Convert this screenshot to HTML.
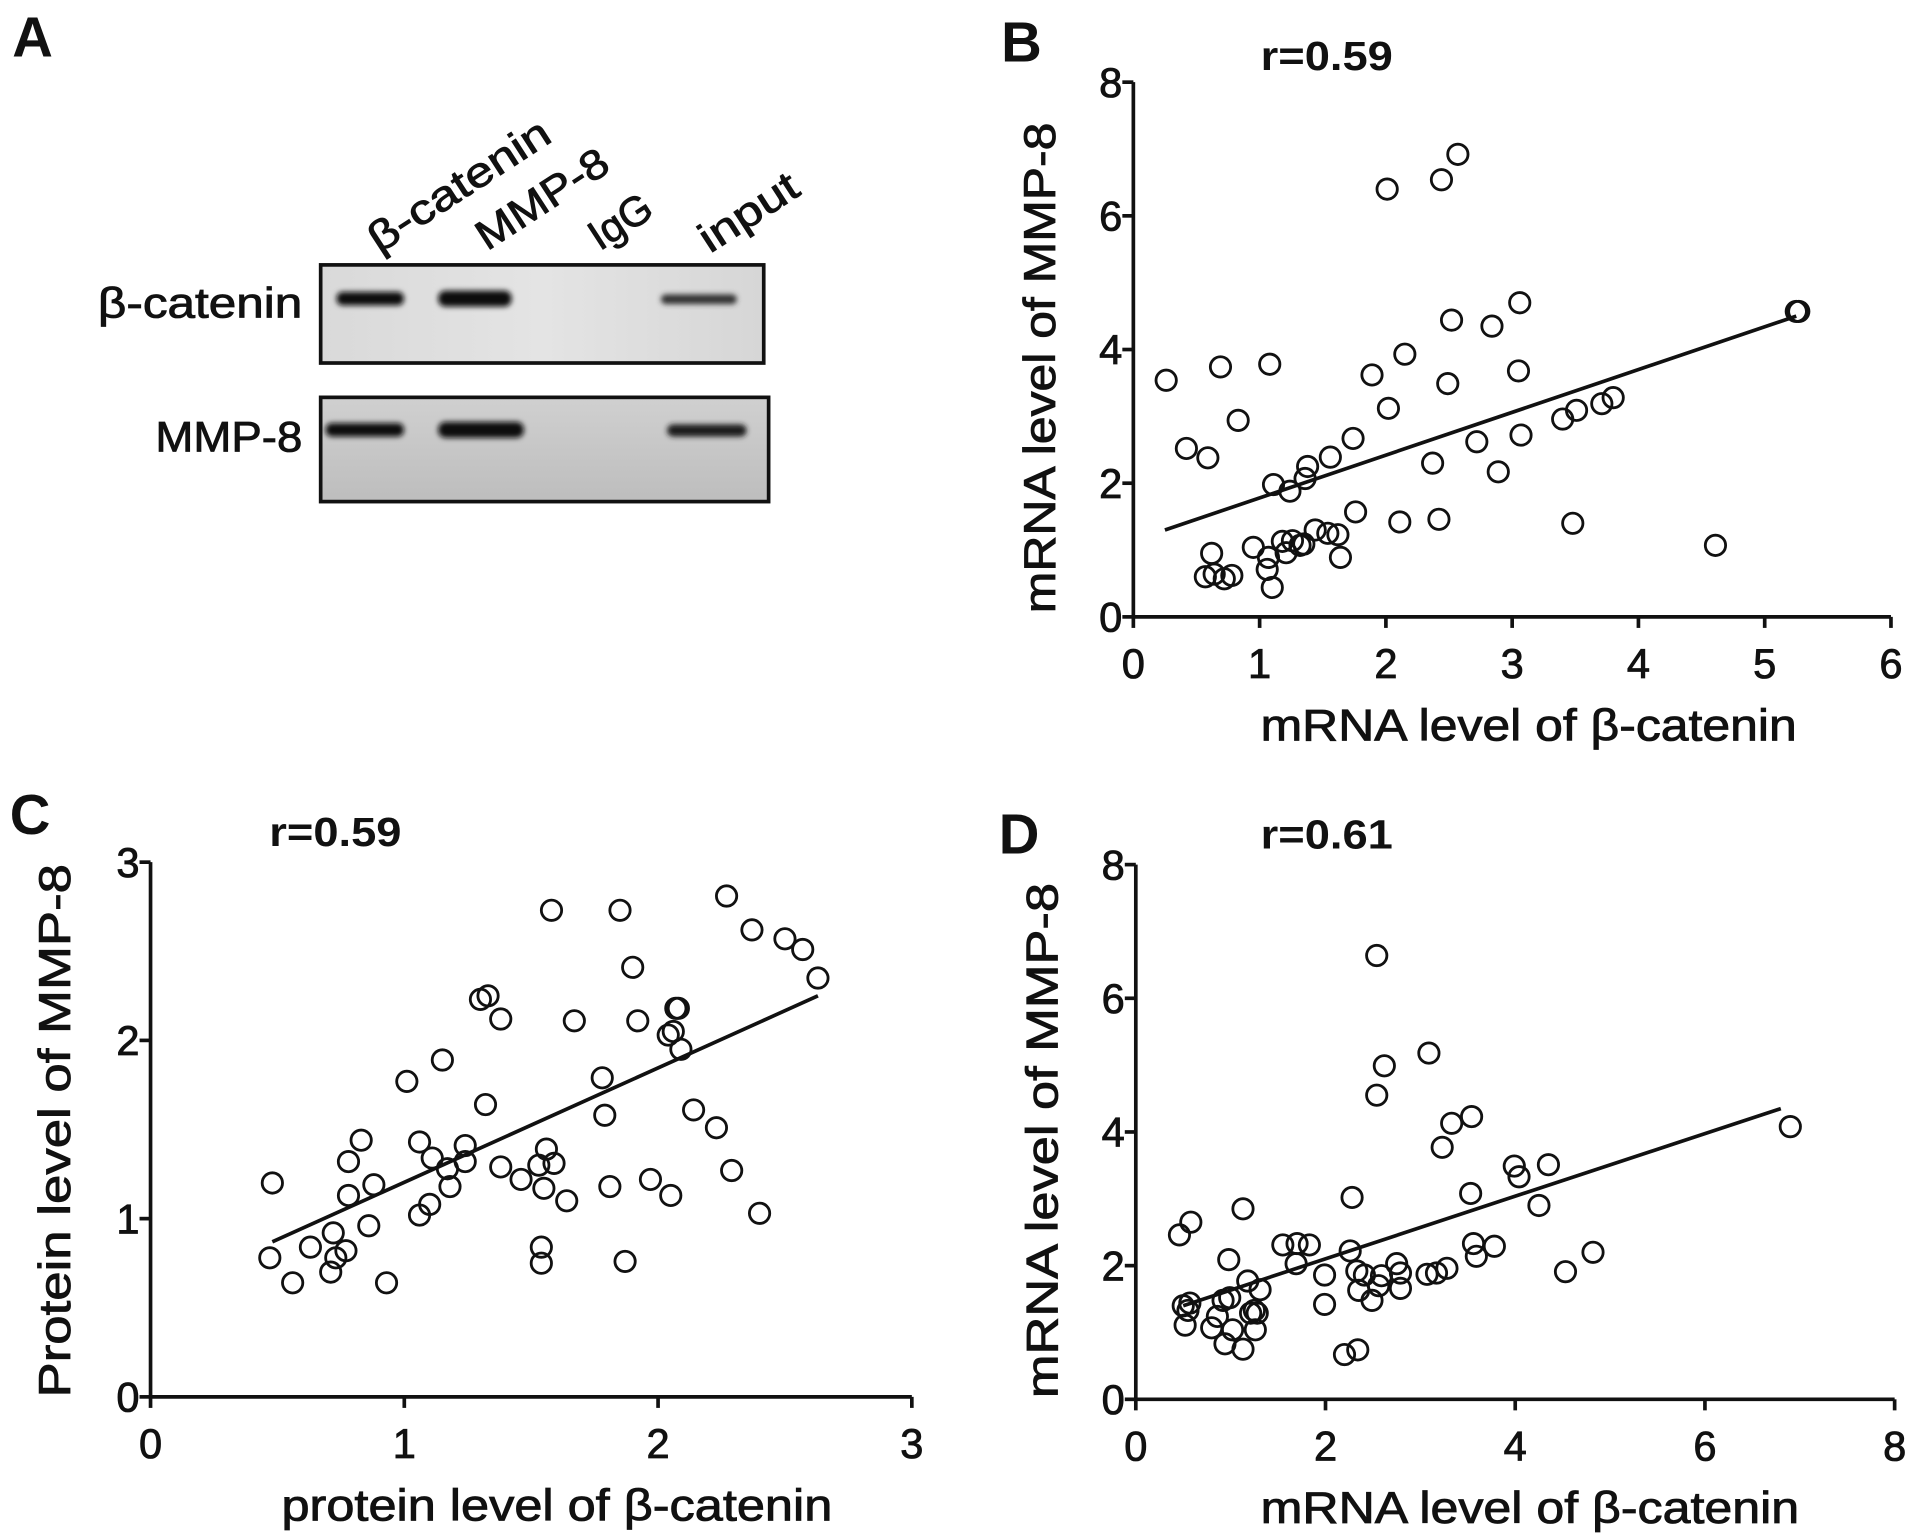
<!DOCTYPE html>
<html><head><meta charset="utf-8"><style>
html,body{margin:0;padding:0;background:#fff;}
svg{display:block;}
text{font-family:"Liberation Sans",Arial,sans-serif;fill:#111;}
.t{stroke:#111;stroke-width:0.7;}
</style></head><body>
<svg id="fig" width="1913" height="1533" viewBox="0 0 1563 1250" preserveAspectRatio="none" xmlns="http://www.w3.org/2000/svg">
<defs>
<filter id="blur" x="-20%" y="-100%" width="140%" height="300%"><feGaussianBlur stdDeviation="2.2"/></filter>
<linearGradient id="g1" x1="0" y1="0" x2="1" y2="0"><stop offset="0" stop-color="#d9d9d9"/><stop offset="0.5" stop-color="#e4e4e4"/><stop offset="1" stop-color="#d6d6d6"/></linearGradient>
<linearGradient id="g2" x1="0" y1="0" x2="0" y2="1"><stop offset="0" stop-color="#d0d0d0"/><stop offset="1" stop-color="#bdbdbd"/></linearGradient>
</defs>
<g>
<text x="10" y="46" font-size="46" font-weight="bold">A</text>
<text class="t" transform="translate(310,207) rotate(-33)" font-size="34" textLength="170" lengthAdjust="spacingAndGlyphs">β-catenin</text>
<text class="t" transform="translate(398,205) rotate(-33)" font-size="34" textLength="122" lengthAdjust="spacingAndGlyphs">MMP-8</text>
<text class="t" transform="translate(490,205) rotate(-33)" font-size="34">IgG</text>
<text class="t" transform="translate(580,207) rotate(-33)" font-size="34" textLength="90" lengthAdjust="spacingAndGlyphs">input</text>
<text class="t" x="80" y="259" font-size="35" textLength="167" lengthAdjust="spacingAndGlyphs">β-catenin</text>
<text class="t" x="127" y="368" font-size="35" textLength="120" lengthAdjust="spacingAndGlyphs">MMP-8</text>
<rect x="262" y="216" width="362" height="80" fill="url(#g1)" stroke="#111" stroke-width="3"/>
<g filter="url(#blur)">
<rect x="275" y="238" width="55" height="11" rx="5" fill="#111"/>
<rect x="358" y="237" width="60" height="13" rx="6" fill="#111"/>
<rect x="540" y="240" width="62" height="8" rx="4" fill="#333"/>
</g>
<rect x="262" y="324" width="366" height="85" fill="url(#g2)" stroke="#111" stroke-width="3"/>
<g filter="url(#blur)">
<rect x="266" y="345" width="64" height="11" rx="5" fill="#111"/>
<rect x="358" y="344" width="70" height="13" rx="6" fill="#111"/>
<rect x="545" y="346" width="65" height="10" rx="5" fill="#1a1a1a"/>
</g>
</g>
<g id="charts"></g>
</svg>
<script>
// Panel B data
const bX = [0.26,0.42,0.59,0.69,0.83,1.08,1.11,1.24,1.38,1.36,1.56,1.74,1.89,2.01,2.02,2.15,2.44,2.57,2.49,2.52,2.37,2.84,3.06,3.05,3.07,2.72,2.89,3.40,3.51,3.71,3.80,5.27,5.25,1.76,2.11,2.42,3.48,4.61,0.62,0.57,0.64,0.72,0.78,0.95,1.06,1.07,1.10,1.18,1.21,1.26,1.32,1.35,1.44,1.54,1.62,1.64];
const bY = [3.54,2.52,2.38,3.74,2.94,3.78,1.98,1.88,2.25,2.07,2.39,2.67,3.62,6.40,3.12,3.93,6.54,6.92,3.49,4.44,2.30,4.35,4.70,3.68,2.72,2.62,2.17,2.96,3.09,3.19,3.28,4.57,4.57,1.57,1.42,1.46,1.40,1.07,0.95,0.60,0.64,0.57,0.62,1.04,0.71,0.89,0.44,1.13,0.96,1.14,1.07,1.09,1.30,1.25,1.23,0.89];
const bFit = [[0.25,1.3],[5.25,4.5]];
const bXTicks = [0,1,2,3,4,5,6];
const bYTicks = [0,2,4,6,8];
// Panel C data
const cX = [0.48,0.47,0.56,0.63,0.72,0.71,0.73,0.77,0.78,0.78,0.83,0.88,0.86,0.93,1.01,1.06,1.06,1.10,1.11,1.15,1.17,1.18,1.24,1.24,1.30,1.33,1.32,1.38,1.38,1.46,1.53,1.56,1.59,1.55,1.54,1.54,1.58,1.64,1.67,1.78,1.79,1.81,1.85,1.87,1.90,1.92,1.97,2.05,2.04,2.06,2.07,2.08,2.09,2.14,2.23,2.29,2.27,2.37,2.40,2.50,2.57,2.63];
const cY = [1.20,0.78,0.64,0.84,0.92,0.70,0.78,0.82,1.32,1.13,1.44,1.19,0.96,0.64,1.77,1.02,1.43,1.08,1.34,1.89,1.28,1.18,1.41,1.32,2.23,2.25,1.64,2.12,1.29,1.22,1.30,1.39,1.31,1.17,0.84,0.75,2.73,1.10,2.11,1.79,1.58,1.18,2.73,0.76,2.41,2.11,1.22,1.13,2.03,2.05,2.18,2.18,1.95,1.61,1.51,1.27,2.81,2.62,1.03,2.57,2.51,2.35];
const cFit = [[0.48,0.87],[2.63,2.25]];
const cXTicks = [0,1,2,3];
const cYTicks = [0,1,2,3];
// Panel D data
const dX = [0.46,0.58,0.52,0.50,0.57,0.55,0.80,0.86,0.92,0.99,0.98,0.94,1.02,1.13,1.13,1.18,1.21,1.26,1.28,1.31,1.25,1.55,1.69,1.70,1.83,1.99,1.99,2.20,2.34,2.28,2.26,2.33,2.41,2.35,2.49,2.59,2.56,2.54,2.54,2.62,2.75,2.79,2.79,3.09,3.07,3.17,3.28,3.23,3.33,3.54,3.53,3.56,3.59,3.78,3.99,4.04,4.35,4.25,4.53,4.82,6.90];
const dY = [2.46,2.65,1.11,1.40,1.44,1.33,1.07,1.24,1.48,1.52,2.09,0.83,1.04,0.75,2.85,1.77,1.29,1.04,1.29,1.64,1.33,2.31,2.03,2.33,2.31,1.86,1.42,0.67,0.74,3.02,2.22,1.92,1.86,1.63,1.48,1.85,1.70,6.64,4.55,4.99,2.03,1.89,1.66,5.18,1.87,1.89,1.96,3.77,4.13,4.23,3.08,2.33,2.14,2.29,3.49,3.33,3.51,2.90,1.91,2.20,4.08];
const dFit = [[0.5,1.4],[6.8,4.35]];
const dXTicks = [0,2,4,6,8];
const dYTicks = [0,2,4,6,8];

const NS = "http://www.w3.org/2000/svg";
const root = document.getElementById('charts');
function mk(tag, attrs, parent){
  const e = document.createElementNS(NS, tag);
  for (const k in attrs) e.setAttribute(k, attrs[k]);
  (parent||root).appendChild(e);
  return e;
}
function chart(o){
  const g = mk('g', {});
  
  
  const sx = v => o.x0 + (v - o.xmin) / (o.xmax - o.xmin) * (o.x1 - o.x0);
  const sy = v => o.y0 - (v - o.ymin) / (o.ymax - o.ymin) * (o.y0 - o.y1);
  const letter = mk('text', {x:o.lx, y:o.ly, 'font-size':46, 'font-weight':'bold'}, g);
  letter.textContent = o.letter;
  
  
  const r = mk('text', {x:o.rx, y:o.ry, 'font-size':33, 'font-weight':'bold', textLength:108, lengthAdjust:'spacingAndGlyphs'}, g);
  r.textContent = o.r;
  
  
  const ax = mk('path', {d:`M${o.x0},${o.y1}V${o.y0}H${o.x1}`, fill:'none', stroke:'#111', 'stroke-width':3}, g);
  
  
  o.xt.forEach(v => {
    const t = mk('line', {x1:sx(v), x2:sx(v), y1:o.y0, y2:o.y0+9, stroke:'#111', 'stroke-width':3}, g);
    
    
    const l = mk('text', {x:sx(v), y:o.y0+50, 'font-size':34, 'text-anchor':'middle', class:'t'}, g);
    l.textContent = v;
    
    
  });
  o.yt.forEach(v => {
    const t = mk('line', {x1:o.x0-9, x2:o.x0, y1:sy(v), y2:sy(v), stroke:'#111', 'stroke-width':3}, g);
    
    
    const l = mk('text', {x:o.x0-9, y:sy(v)+12, 'font-size':34, 'text-anchor':'end', class:'t'}, g);
    l.textContent = v;
    
    
  });
  const xt = mk('text', {x:o.xtc - o.xtw/2, y:o.y0+101, 'font-size':36, class:'t', textLength:o.xtw, lengthAdjust:'spacingAndGlyphs'}, g);
  xt.textContent = o.xtitle;
  
  
  const yt = mk('text', {transform:`translate(${o.ytx},${o.ytc}) rotate(-90)`, x:-o.ytw/2, 'font-size':36, class:'t', textLength:o.ytw, lengthAdjust:'spacingAndGlyphs'}, g);
  yt.textContent = o.ytitle;
  
  
  const fl = mk('line', {x1:sx(o.fit[0][0]), y1:sy(o.fit[0][1]), x2:sx(o.fit[1][0]), y2:sy(o.fit[1][1]), stroke:'#111', 'stroke-width':3}, g);
  
  
  o.xs.forEach((v,i) => {
    const c = mk('circle', {cx:sx(v), cy:sy(o.ys[i]), r:8.3, fill:'none', stroke:'#111', 'stroke-width':2.3}, g);
    
    
  });
}
chart({name:'panel-b', letter:'B', lx:818, ly:50, r:'r=0.59', rx:1030, ry:57,
  x0:926, x1:1545, y0:503, y1:67, xmin:0, xmax:6, ymin:0, ymax:8,
  xt:bXTicks, yt:bYTicks, xs:bX, ys:bY, fit:bFit,
  xtitle:'mRNA level of β-catenin', xtc:1249, xtw:438,
  ytitle:'mRNA level of MMP-8', ytx:862, ytc:300, ytw:400});
chart({name:'panel-c', letter:'C', lx:8, ly:680, r:'r=0.59', rx:220, ry:690,
  x0:123, x1:745, y0:1139, y1:703, xmin:0, xmax:3, ymin:0, ymax:3,
  xt:cXTicks, yt:cYTicks, xs:cX, ys:cY, fit:cFit,
  xtitle:'protein level of β-catenin', xtc:455, xtw:450,
  ytitle:'Protein level of MMP-8', ytx:57, ytc:922, ytw:435});
chart({name:'panel-d', letter:'D', lx:816, ly:696, r:'r=0.61', rx:1030, ry:692,
  x0:928, x1:1548, y0:1141, y1:705, xmin:0, xmax:8, ymin:0, ymax:8,
  xt:dXTicks, yt:dYTicks, xs:dX, ys:dY, fit:dFit,
  xtitle:'mRNA level of β-catenin', xtc:1250, xtw:440,
  ytitle:'mRNA level of MMP-8', ytx:864, ytc:930, ytw:420});
</script>
</body></html>
